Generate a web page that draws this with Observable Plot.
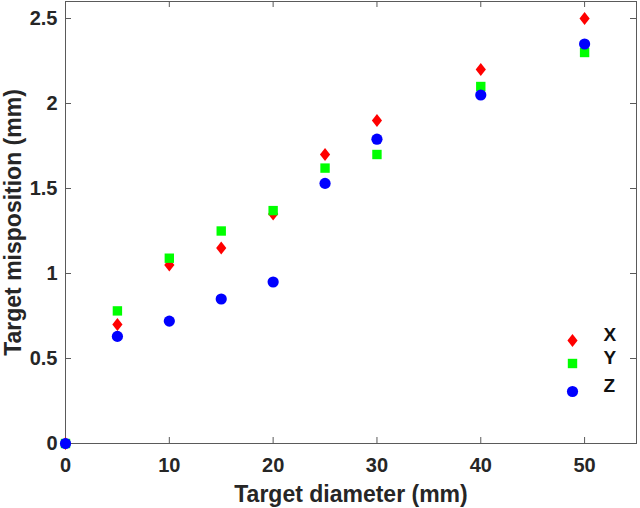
<!DOCTYPE html>
<html>
<head>
<meta charset="utf-8">
<script src="https://cdn.jsdelivr.net/npm/d3@7"></script>
<script src="https://cdn.jsdelivr.net/npm/@observablehq/plot@0.6"></script>
<style>
  html, body { margin: 0; padding: 0; background: #fff; }
  #chart svg { display: block; }
</style>
</head>
<body>
<div id="chart"></div>
<script>
const diameters = [0, 5, 10, 15, 20, 25, 30, 40, 50];
const valuesX = [0, 0.70, 1.05, 1.15, 1.35, 1.70, 1.90, 2.20, 2.50];
const valuesY = [0, 0.78, 1.09, 1.25, 1.37, 1.62, 1.70, 2.10, 2.30];
const valuesZ = [0, 0.63, 0.72, 0.85, 0.95, 1.53, 1.79, 2.05, 2.35];
const xTicks = [0, 10, 20, 30, 40, 50];
const yTicks = [0, 0.5, 1, 1.5, 2, 2.5];
const seriesNames = ["X", "Y", "Z"];
const seriesColors = ["#ff0000", "#00ff00", "#0000ff"];

// wide diamond like MATLAB's
const wideDiamond = {
  draw(context, size) {
    const k = 0.78;
    const h = Math.sqrt(size / (2 * k));
    const w = h * k;
    context.moveTo(0, -h);
    context.lineTo(w, 0);
    context.lineTo(0, h);
    context.lineTo(-w, 0);
    context.closePath();
  }
};
const seriesSymbols = [wideDiamond, "square", "circle"];
const seriesR = [4.6, 5.3, 5.6];

const rows = (vals) => diameters.map((d, i) => ({d, v: vals[i]}));
const allSeries = [valuesX, valuesY, valuesZ];

const W = 640, H = 508;
const mL = 65, mR = 4, mT = 1, mB = 65;
const innerH = H - mT - mB;
const innerW = W - mL - mR;
const tickLen = 6;
const font = "'Liberation Sans', Arial, sans-serif";
const axisColor = "#5a5a5a";

const marks = [
  Plot.frame({stroke: axisColor, strokeWidth: 1}),
  // inward ticks on all four sides
  Plot.tickX(xTicks, {x: d => d, insetTop: innerH - tickLen, stroke: axisColor}),
  Plot.tickX(xTicks, {x: d => d, insetBottom: innerH - tickLen, stroke: axisColor}),
  Plot.tickY(yTicks, {y: d => d, insetRight: innerW - tickLen, stroke: axisColor}),
  Plot.tickY(yTicks, {y: d => d, insetLeft: innerW - tickLen, stroke: axisColor}),
  Plot.axisX({ticks: xTicks, tickSize: 0, tickPadding: 14, fontSize: 20, fontWeight: "bold", fill: "#262626",
    label: "Target diameter (mm)", labelAnchor: "center", labelArrow: "none", labelOffset: 58}),
  Plot.axisY({ticks: yTicks, tickSize: 0, tickPadding: 8, fontSize: 20, fontWeight: "bold", fill: "#262626",
    tickFormat: d => String(d),
    label: "Target misposition (mm)", labelAnchor: "center", labelArrow: "none", labelOffset: 61}),
];
allSeries.forEach((vals, i) => {
  marks.push(Plot.dot(rows(vals), {x: "d", y: "v", symbol: () => seriesSymbols[i], fill: seriesColors[i], r: seriesR[i], stroke: "none"}));
});
// legend inside the plot, anchored to the bottom-right corner of the frame
const legendDy = [-103, -80, -52];
seriesNames.forEach((name, i) => {
  marks.push(Plot.dot([name], {frameAnchor: "bottom-right", dx: -64, dy: legendDy[i], symbol: () => seriesSymbols[i], fill: seriesColors[i], r: seriesR[i]}));
  marks.push(Plot.text([name], {frameAnchor: "bottom-right", dx: -33, dy: legendDy[i], text: d => d, textAnchor: "start", fontSize: 19, fontWeight: "bold", fill: "#111"}));
});

const chart = Plot.plot({
  width: W, height: H,
  marginLeft: mL, marginRight: mR, marginTop: mT, marginBottom: mB,
  style: {fontFamily: font, background: "#fff", overflow: "visible"},
  x: {domain: [0, 55]},
  y: {domain: [0, 2.6]},
  symbol: {type: "identity"},
  marks
});
chart.querySelectorAll("g[aria-label='x-axis label'] text, g[aria-label='y-axis label'] text").forEach(t => {
  t.setAttribute("font-size", "23");
  t.setAttribute("font-weight", "bold");
  t.setAttribute("fill", "#262626");
});
chart.querySelectorAll("g[aria-label='x-axis label'], g[aria-label='y-axis label']").forEach(g => {
  g.setAttribute("font-size", "23");
});
document.getElementById("chart").appendChild(chart);
</script>
</body>
</html>
